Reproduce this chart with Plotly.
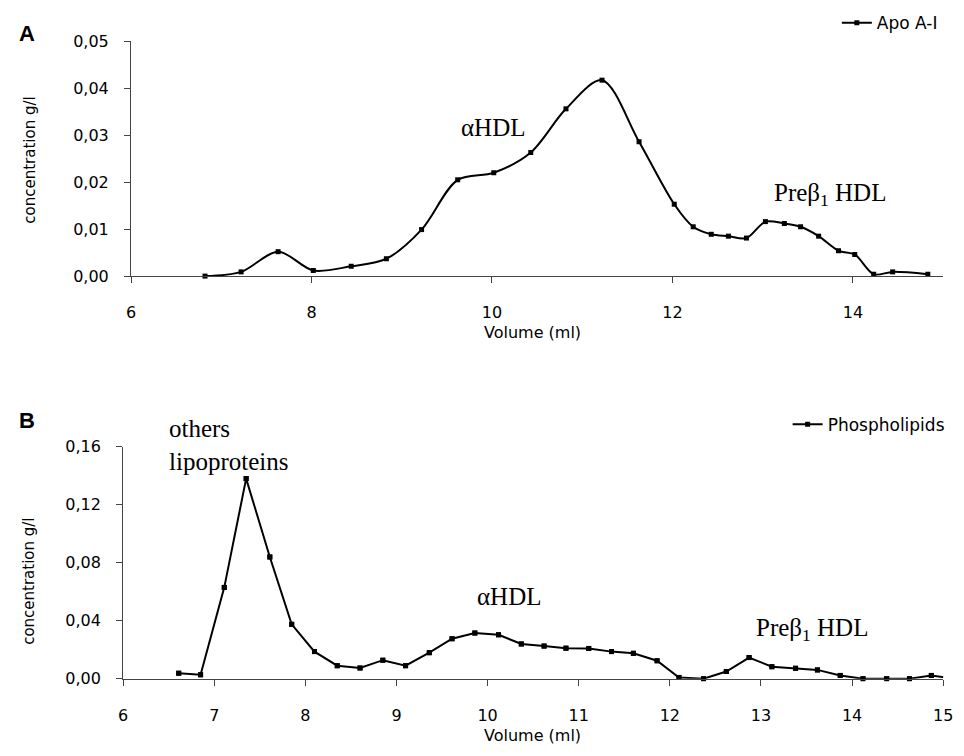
import plotly.graph_objects as go

# Panel A: Apo A-I
apo_volume = [6.82, 7.22, 7.63, 8.02, 8.44, 8.83, 9.22, 9.62, 10.02, 10.43, 10.82, 11.22, 11.63,
              12.02, 12.23, 12.43, 12.62, 12.82, 13.03, 13.24, 13.42, 13.62, 13.84, 14.02, 14.23,
              14.44, 14.83]
apo_conc = [0.0000, 0.0009, 0.0052, 0.0012, 0.0021, 0.0037, 0.0099, 0.0205, 0.0220, 0.0263, 0.0356,
            0.0417, 0.0286, 0.0153, 0.0105, 0.0089, 0.0085, 0.0081, 0.0116, 0.0112, 0.0105, 0.0085,
            0.0054, 0.0046, 0.0004, 0.0009, 0.0004]

# Panel B: Phospholipids
pl_volume = [6.61, 6.85, 7.11, 7.35, 7.61, 7.85, 8.10, 8.35, 8.60, 8.85, 9.10, 9.36, 9.61, 9.86,
             10.12, 10.37, 10.62, 10.86, 11.11, 11.36, 11.60, 11.86, 12.10, 12.37, 12.62, 12.87,
             13.12, 13.38, 13.62, 13.87, 14.12, 14.38, 14.63, 14.87, 15.12]
pl_conc = [0.0038, 0.0027, 0.063, 0.138, 0.084, 0.0375, 0.0187, 0.009, 0.0074, 0.0128, 0.009, 0.018,
           0.0276, 0.0315, 0.0303, 0.024, 0.0225, 0.0211, 0.0209, 0.0187, 0.0175, 0.0124, 0.0009,
           0.0, 0.005, 0.0146, 0.0083, 0.0072, 0.0061, 0.0023, 0.0, 0.0, 0.0, 0.0023, 0.0]

x_ticks_a = [6, 8, 10, 12, 14]
x_ticks_b = [6, 7, 8, 9, 10, 11, 12, 13, 14, 15]
y_ticks_a = [0, 0.01, 0.02, 0.03, 0.04, 0.05]
y_ticks_b = [0, 0.04, 0.08, 0.12, 0.16]
x_range = [6, 15]

W, H = 964, 756
SANS = "DejaVu Sans"
SERIF = "Liberation Serif"


def px_x(p):
    return p / W


def px_y(p):
    return 1 - p / H


fig = go.Figure()

fig.add_trace(go.Scatter(
    x=apo_volume, y=apo_conc, mode="lines+markers", name="Apo A-I",
    line=dict(color="black", width=2, shape="spline", smoothing=0.9),
    marker=dict(symbol="square", size=5, color="black"),
    cliponaxis=False, xaxis="x", yaxis="y", legend="legend"))

fig.add_trace(go.Scatter(
    x=pl_volume, y=pl_conc, mode="lines+markers", name="Phospholipids",
    line=dict(color="black", width=2),
    marker=dict(symbol="square", size=5, color="black"),
    cliponaxis=True, xaxis="x2", yaxis="y2", legend="legend2"))

in_range = [(v, c) for v, c in zip(pl_volume, pl_conc) if x_range[0] <= v <= x_range[1]]
fig.add_trace(go.Scatter(
    x=[v for v, _ in in_range], y=[c for _, c in in_range], mode="markers",
    marker=dict(symbol="square", size=5, color="black"),
    cliponaxis=False, showlegend=False, xaxis="x2", yaxis="y2"))

axis_common = dict(showline=True, linecolor="#444", linewidth=1, ticks="outside",
                   ticklen=6, tickcolor="#444", showgrid=False, zeroline=False,
                   tickfont=dict(family=SANS, size=16, color="black"))

fig.update_layout(
    width=W, height=H,
    margin=dict(l=0, r=0, t=0, b=0),
    paper_bgcolor="white", plot_bgcolor="white",
    separators=", ",
    xaxis=dict(domain=[px_x(128), px_x(953)], range=x_range, tickvals=x_ticks_a,
               anchor="y", ticklabelstandoff=16, **axis_common),
    yaxis=dict(domain=[px_y(274), px_y(33)], range=[0, 0.05], tickvals=y_ticks_a,
               tickformat=".2f", anchor="x", ticklabelstandoff=12, **axis_common),
    xaxis2=dict(domain=[px_x(120), px_x(953)], range=x_range, tickvals=x_ticks_b,
                anchor="y2", ticklabelstandoff=16, **axis_common),
    yaxis2=dict(domain=[px_y(687), px_y(449)], range=[0, 0.16], tickvals=y_ticks_b,
                tickformat=".2f", anchor="x2", ticklabelstandoff=12, **axis_common),
    legend=dict(x=px_x(845), y=px_y(-4), xanchor="left", yanchor="top",
                bgcolor="rgba(0,0,0,0)", font=dict(family=SANS, size=17, color="black")),
    legend2=dict(x=px_x(795), y=px_y(408), xanchor="left", yanchor="top",
                 bgcolor="rgba(0,0,0,0)", font=dict(family=SANS, size=17, color="black")),
)

annotations = [
    dict(text="<b>A</b>", x=px_x(22), y=px_y(25), font=dict(family="Liberation Sans", size=22)),
    dict(text="<b>B</b>", x=px_x(22), y=px_y(422), font=dict(family="Liberation Sans", size=22)),
    dict(text="concentration g/l", x=px_x(25), y=px_y(155), textangle=-90,
         font=dict(family=SANS, size=15)),
    dict(text="concentration g/l", x=px_x(25), y=px_y(587), textangle=-90,
         font=dict(family=SANS, size=15)),
    dict(text="Volume (ml)", x=px_x(536), y=px_y(332), font=dict(family=SANS, size=16)),
    dict(text="Volume (ml)", x=px_x(536), y=px_y(745), font=dict(family=SANS, size=16)),
    dict(text="αHDL", x=px_x(496), y=px_y(122), font=dict(family=SERIF, size=25)),
    dict(text="Preβ<sub>1</sub> HDL", x=px_x(838), y=px_y(190), font=dict(family=SERIF, size=25)),
    dict(text="others<br>lipoproteins", x=px_x(165), y=px_y(447), xanchor="left", align="left",
         font=dict(family=SERIF, size=25)),
    dict(text="αHDL", x=px_x(512), y=px_y(603), font=dict(family=SERIF, size=25)),
    dict(text="Preβ<sub>1</sub> HDL", x=px_x(820), y=px_y(636), font=dict(family=SERIF, size=25)),
]
for a in annotations:
    a.setdefault("xanchor", "center")
    a.update(xref="paper", yref="paper", showarrow=False, yanchor="middle")
    a["font"]["color"] = "black"
fig.update_layout(annotations=annotations)

fig.write_html("out.html")
